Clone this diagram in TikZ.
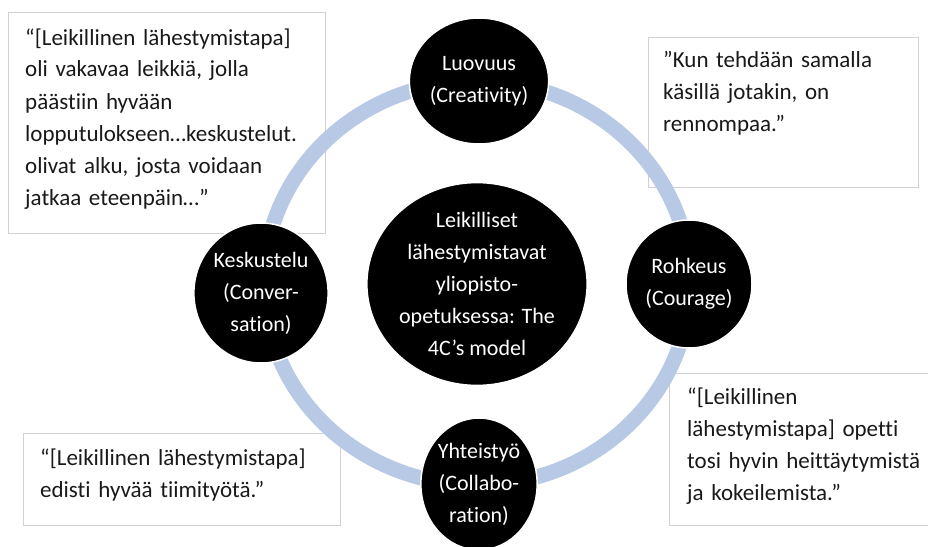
\documentclass[tikz,border=0pt]{standalone}
\usepackage{fontspec}
\setmainfont{Carlito}[Ligatures=NoCommon]
\usetikzlibrary{shapes.geometric, shadows}
\definecolor{ringblue}{RGB}{183,201,228}
\definecolor{boxgray}{RGB}{210,210,210}

\begin{document}
\begin{tikzpicture}[x=1pt, y=-1pt,
				   topic/.style={ellipse, fill=black, draw=white, line width=1.5pt, text=white, align=center, inner sep=0pt, font=\fontsize{22}{32}\selectfont},
				   quotebox/.style={rectangle, fill=white, draw=boxgray, line width=0.6pt, anchor=north west, inner sep=0pt, drop shadow={opacity=0.12, shadow xshift=1pt, shadow yshift=-1pt}},
				   saying/.style={anchor=base west, text width=300pt, align=left, inner sep=0pt, text=black!90, font=\fontsize{23}{32}\selectfont}]
\useasboundingbox (0,0) rectangle (928,546);
\node[quotebox, minimum width=317, minimum height=221] (q1) at (8,12) {};
\node[quotebox, minimum width=270, minimum height=150] (q2) at (648,37) {};
\node[quotebox, minimum width=317, minimum height=92] (q3) at (23,433) {};
\node[quotebox, minimum width=270, minimum height=152] (q4) at (669,373) {};
\draw[ringblue, line width=15pt] (477,283) ellipse [x radius=213, y radius=202];
\node[topic, minimum width=196, minimum height=198] (mid) at (477,284) {Leikilliset\\ lähestymistavat\\ yliopisto-\\ opetuksessa: The\\ 4C’s model};
\node[topic, minimum width=126, minimum height=126] (luo) at (479,81) {Luovuus\\ (Creativity)};
\node[topic, minimum width=130, minimum height=140] (kes) at (261,293) {Keskustelu\\ (Conver-\\ sation)};
\node[topic, minimum width=126, minimum height=128] (roh) at (689,284) {Rohkeus\\ (Courage)};
\node[topic, minimum width=112, minimum height=132] (yht) at (479,484) {Yhteistyö\\ (Collabo-\\ ration)};
\node[saying] (s1) at (25,45) {“[Leikillinen lähestymistapa]\\ oli vakavaa leikkiä, jolla\\ päästiin hyvään\\ lopputulokseen…keskustelut.\\ olivat alku, josta voidaan\\ jatkaa eteenpäin…”};
\node[saying] (s2) at (663,67) {”Kun tehdään samalla\\ käsillä jotakin, on\\ rennompaa.”};
\node[saying] (s3) at (40,465) {“[Leikillinen lähestymistapa]\\ edisti hyvää tiimityötä.”};
\node[saying] (s4) at (687,404) {“[Leikillinen\\ lähestymistapa] opetti\\ tosi hyvin heittäytymistä\\ ja kokeilemista.”};
\end{tikzpicture}
\end{document}
